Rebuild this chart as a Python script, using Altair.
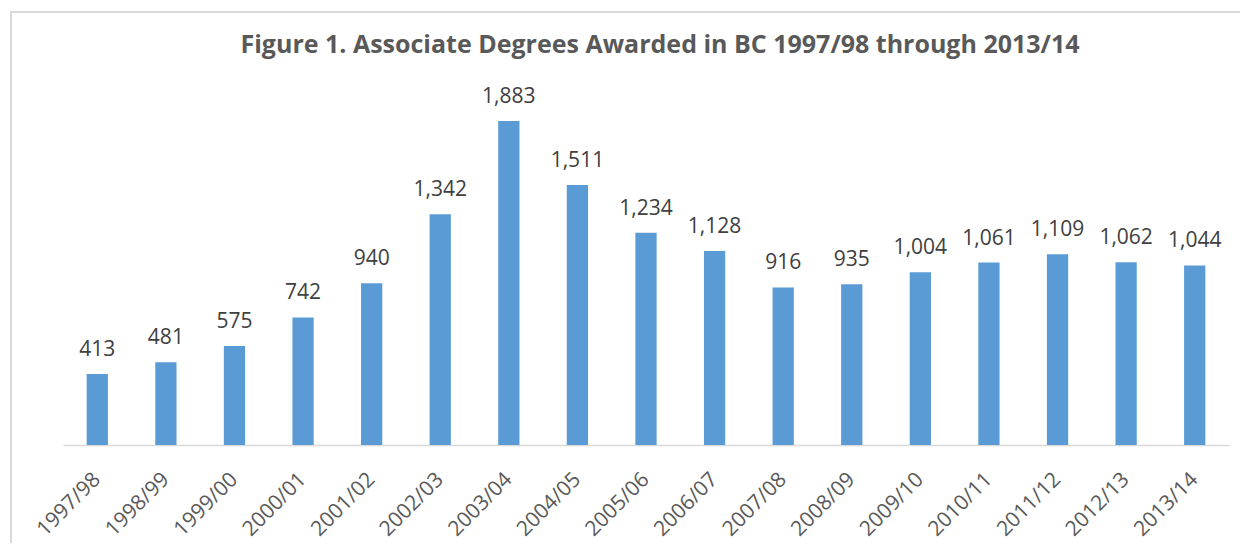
import altair as alt
import pandas as pd

years = ["1997/98", "1998/99", "1999/00", "2000/01", "2001/02", "2002/03", "2003/04",
         "2004/05", "2005/06", "2006/07", "2007/08", "2008/09", "2009/10", "2010/11",
         "2011/12", "2012/13", "2013/14"]
degrees = [413, 481, 575, 742, 940, 1342, 1883, 1511, 1234, 1128, 916, 935, 1004,
           1061, 1109, 1062, 1044]
title_text = "Figure 1. Associate Degrees Awarded in BC 1997/98 through 2013/14"

df = pd.DataFrame({"year": years, "degrees": degrees})

FONT = "Open Sans"

x = alt.X("year:N", sort=years, title=None,
          scale=alt.Scale(paddingInner=0.69, paddingOuter=0.345),
          axis=alt.Axis(labelAngle=-45, labelAlign="right", labelBaseline="middle",
                        labelFontSize=21, labelColor="#595959", labelFont=FONT,
                        labelPadding=31, ticks=False, domainColor="#D9D9D9",
                        domainWidth=1.5, grid=False))
y = alt.Y("degrees:Q", title=None, scale=alt.Scale(domain=[0, 2000]), axis=None)

border = alt.Chart(df).mark_rect(fill=None, stroke="#D9D9D9", strokeWidth=1.5).encode(
    x=alt.value(-52), x2=alt.value(1200), y=alt.value(-89), y2=alt.value(470)
)

title = alt.Chart(pd.DataFrame({"t": [title_text]})).mark_text(
    font=FONT, fontSize=25, fontWeight="bold", color="#595959",
    align="center", baseline="alphabetic"
).encode(text="t:N", x=alt.value(597), y=alt.value(-48))

bars = alt.Chart(df).mark_bar(color="#5B9BD5").encode(x=x, y=y)

labels = alt.Chart(df).mark_text(baseline="alphabetic", dy=-18, fontSize=21,
                                  color="#404040", font=FONT).encode(
    x=x, y=y, text=alt.Text("degrees:Q", format=",")
)

chart = alt.layer(border, title, bars, labels).properties(
    width=1166, height=344,
    autosize=alt.AutoSizeParams(type="none"),
    padding={"left": 55, "top": 93, "right": 11, "bottom": 98},
).configure_view(stroke=None)

chart.save("out.html", embed_options={"renderer": "svg", "actions": False})
